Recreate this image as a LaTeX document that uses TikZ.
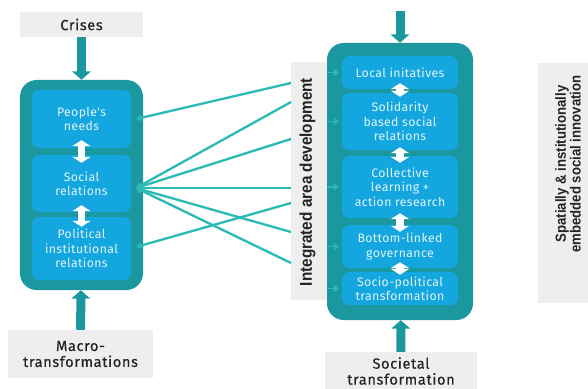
\documentclass[tikz,border=0pt]{standalone}
\usepackage{fontspec}
\setmainfont{Fira Sans}
\newfontfamily\tagfont[FakeBold=0.4,LetterSpace=4]{Fira Sans}
\newfontfamily\cellfont[LetterSpace=3]{Fira Sans}
\newfontfamily\narrowfont[FakeStretch=0.9]{Liberation Sans}
\usetikzlibrary{arrows.meta}
\definecolor{vteal}{HTML}{1B97A0}
\definecolor{vsky}{HTML}{13A6DF}
\definecolor{vlink}{HTML}{2BBAB4}
\definecolor{vgray}{HTML}{EEEEEE}
\definecolor{vtext}{HTML}{232323}
\definecolor{vpale}{HTML}{E2F5FC}

\begin{document}
\begin{tikzpicture}[x=0.03cm, y=-0.03cm,
		panel/.style={fill=vteal, rounded corners=0.5cm, inner sep=0pt},
		cell/.style={fill=vsky, rounded corners=0.22cm, text=vpale, align=center, inner sep=0pt, font=\cellfont\fontsize{10.5}{12.3}\selectfont},
		tag/.style={fill=vgray, text=vtext, align=center, inner sep=0pt, font=\tagfont\fontsize{12.5}{13.6}\selectfont},
		flow/.style={color=vteal, line width=0.27cm, -{Triangle[width=0.55cm,length=0.25cm]}},
		swap/.style={color=white, line width=0.22cm, {Triangle[width=0.55cm,length=0.18cm]}-{Triangle[width=0.55cm,length=0.18cm]}},
		link/.style={color=vlink, line width=0.07cm, -{Triangle[width=0.2cm,length=0.16cm]}}]
		\useasboundingbox (0,0) rectangle (588,388);
		\clip (0,0) rectangle (588,388);

		\node[tag, minimum width=3.69cm, minimum height=0.75cm] (crises) at (81.5,24.5) {Crises};
		\node[tag, minimum width=4.35cm, minimum height=1.44cm] (macro) at (80.5,354) {Macro-\\transformations};
		\node[panel, minimum width=3.69cm, minimum height=6.3cm] (left) at (81.5,185) {};
		\node[cell, minimum width=2.97cm, minimum height=1.74cm] (pn) at (81.5,119) {People's\\needs};
		\node[cell, minimum width=2.97cm, minimum height=1.71cm] (sr) at (81.5,183.5) {Social\\relations};
		\node[cell, minimum width=2.97cm, minimum height=1.89cm] (pir) at (81.5,248.5) {Political\\institutional\\relations};

		\node[tag, minimum width=1.08cm, minimum height=7.14cm] (iad) at (309,181) {};
		\node[rotate=90, text=vtext, font=\narrowfont\bfseries\fontsize{14.5}{15}\selectfont] (iad-text) at (307.5,182) {Integrated area development};

		\coordinate (top) at (400,11);
		\node[tag, minimum width=4.56cm, minimum height=1.14cm] (soc) at (401,371) {Societal\\transformation};
		\node[panel, minimum width=4.38cm, minimum height=8.31cm] (mid) at (400,181.5) {};
		\node[cell, minimum width=3.48cm, minimum height=0.99cm] (li) at (400,72.5) {Local initatives};
		\node[cell, minimum width=3.48cm, minimum height=1.71cm] (sb) at (400,121.5) {Solidarity\\based social\\relations};
		\node[cell, minimum width=3.48cm, minimum height=1.86cm] (cl) at (400,187) {Collective\\learning +\\action research};
		\node[cell, minimum width=3.48cm, minimum height=1.29cm] (bg) at (400,246.5) {Bottom-linked\\governance};
		\node[cell, minimum width=3.48cm, minimum height=0.99cm] (sp) at (400,288.5) {Socio-political\\transformation};

		\node[tag, minimum width=1.86cm, minimum height=7.2cm] (sie) at (569,183) {};
		\node[rotate=90, align=center, text=vtext, font=\narrowfont\bfseries\fontsize{12.5}{12.75}\selectfont] (sie-text) at (568,164) {Spatially \& institutionally\\embedded social innovation};

		\draw[flow] (crises) -- (left);
		\draw[flow] (macro) -- (left);
		\draw[flow] (top) -- (mid);
		\draw[flow] (soc) -- (mid);

		\draw[swap] ([yshift=0.24cm]pn.south) -- ([yshift=-0.24cm]sr.north);
		\draw[swap] ([yshift=0.21cm]sr.south) -- ([yshift=-0.3cm]pir.north);
		\draw[swap] ([yshift=0.18cm]li.south) -- ([yshift=-0.12cm]sb.north);
		\draw[swap] ([yshift=0.09cm]sb.south) -- ([yshift=-0.21cm]cl.north);
		\draw[swap] ([yshift=0.15cm]cl.south) -- ([yshift=-0.21cm]bg.north);
		\draw[swap] ([yshift=0.18cm]bg.south) -- ([yshift=-0.09cm]sp.north);

		\coordinate (pn-in) at (136,119);
		\coordinate (sr-in) at (136,188);
		\coordinate (pir-in) at (136,247);
		\coordinate (e1) at (291,83);
		\coordinate (e2) at (291,102);
		\coordinate (e3) at (291,139);
		\coordinate (e4) at (291,188);
		\coordinate (e5) at (291,232);
		\coordinate (e6) at (291,263);
		\coordinate (e7) at (291,203);
		\draw[link] (e1) -- (pn-in);
		\draw[link] (e2) -- (sr-in);
		\draw[link] (e3) -- (sr-in);
		\draw[link] (e4) -- (sr-in);
		\draw[link] (e5) -- (sr-in);
		\draw[link] (e6) -- (sr-in);
		\draw[link] (e7) -- (pir-in);

		\draw[link, line width=0.05cm] (iad.east |- li) -- ([xshift=-0.08cm]li.west);
		\draw[link, line width=0.05cm] (iad.east |- sb) -- ([xshift=-0.08cm]sb.west);
		\draw[link, line width=0.05cm] (iad.east |- cl) -- ([xshift=-0.08cm]cl.west);
		\draw[link, line width=0.05cm] (iad.east |- bg) -- ([xshift=-0.08cm]bg.west);
		\draw[link, line width=0.05cm] (iad.east |- sp) -- ([xshift=-0.08cm]sp.west);
	\end{tikzpicture}
\end{document}
